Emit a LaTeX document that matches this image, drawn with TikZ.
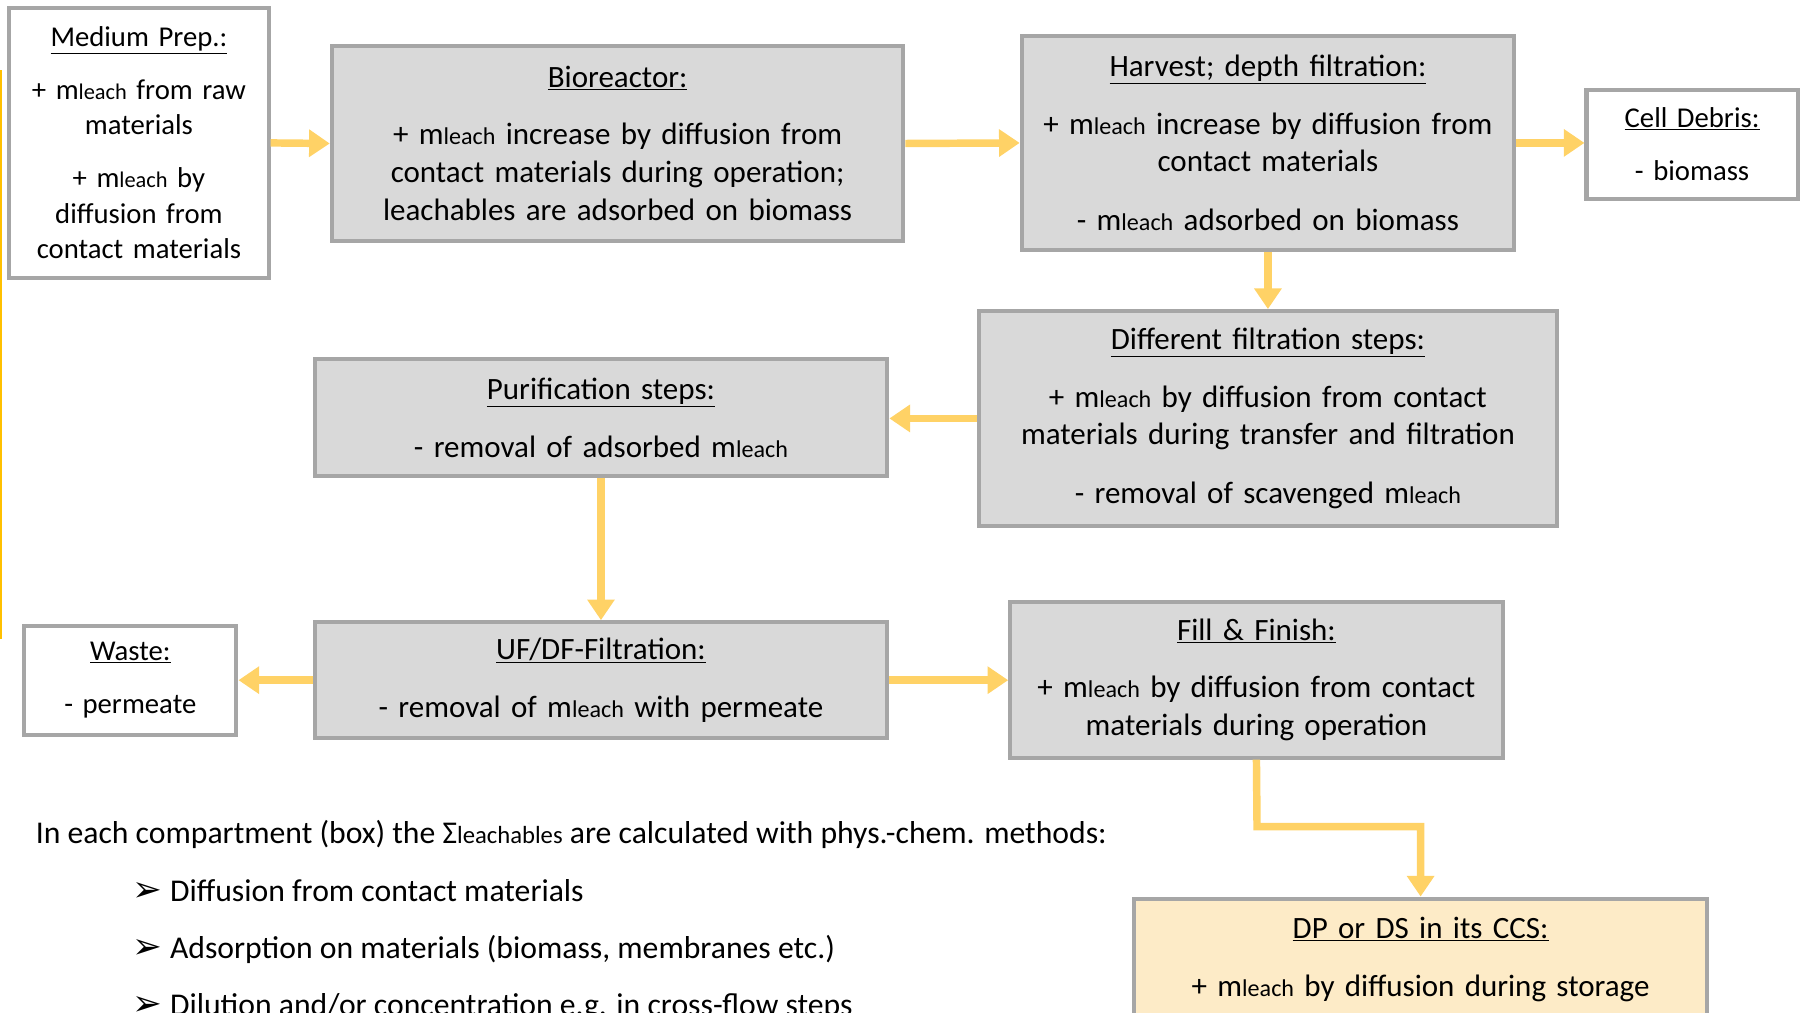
\documentclass[tikz,border=0pt]{standalone}
\usepackage{fontspec}
\setmainfont{Carlito}
\newfontfamily\dejavu{DejaVu Sans}
\usetikzlibrary{arrows.meta}
\definecolor{boxgray}{RGB}{217,217,217}
\definecolor{bordergray}{RGB}{166,166,166}
\definecolor{arrowyellow}{RGB}{255,210,102}
\definecolor{dpfill}{RGB}{253,235,199}
\definecolor{edgeorange}{RGB}{255,192,0}
\newcommand{\mlsmall}{m{\fontsize{19.5}{19.5}\selectfont leach}}
\newcommand{\mlbig}{m{\fontsize{21}{21}\selectfont leach}}
\newcommand{\ttl}[1]{\underline{#1}}
\newcommand{\bulletmark}{{\dejavu\fontsize{31}{31}\selectfont ➢}}
\begin{document}
\begin{tikzpicture}[x=1pt,y=-1pt,
  basebox/.style={draw=bordergray, line width=3.5pt, align=center, inner sep=0pt},
  bigbox/.style={basebox, fill=boxgray, font=\fontsize{27}{33}\selectfont},
  smallbox/.style={basebox, fill=white, font=\fontsize{25}{31}\selectfont},
  dpbox/.style={basebox, fill=dpfill, font=\fontsize{27}{33}\selectfont},
  flow/.style={draw=arrowyellow, line width=6.5pt, -{Triangle[width=23pt,length=18pt]}},
  plain/.style={font=\fontsize{27.6}{33}\selectfont, inner sep=0pt, anchor=base west},
  bul/.style={plain}
]
\useasboundingbox (0,0) rectangle (1568,882);
\clip (0,0) rectangle (1568,882);

\draw[edgeorange, line width=1.5pt] (0.75,61) -- (0.75,557);

\node[smallbox, minimum width=226pt, minimum height=235pt, text width=220pt] (med) at (121,124.5)
  {\ttl{Medium Prep.:}\\[15pt] + \mlsmall{} from raw\\ materials\\[15pt] + \mlsmall{} by\\ diffusion from\\ contact materials};

\node[bigbox, minimum width=498pt, minimum height=170pt, text width=490pt] (bio) at (538,125)
  {\ttl{Bioreactor:}\\[17pt] + \mlbig{} increase by diffusion from\\ contact materials during operation;\\ leachables are adsorbed on biomass};

\node[bigbox, minimum width=429pt, minimum height=187pt, text width=420pt] (harv) at (1104.5,124.5)
  {\ttl{Harvest; depth filtration:}\\[17pt] + \mlbig{} increase by diffusion from\\ contact materials\\[18pt] - \mlbig{} adsorbed on biomass};

\node[smallbox, minimum width=184pt, minimum height=95pt, text width=180pt] (cell) at (1474,125.5)
  {\ttl{Cell Debris:}\\[15pt] - biomass};

\node[bigbox, minimum width=503pt, minimum height=187pt, text width=495pt] (filt) at (1104.5,364.5)
  {\ttl{Different filtration steps:}\\[17pt] + \mlbig{} by diffusion from contact\\ materials during transfer and filtration\\[18pt] - removal of scavenged \mlbig};

\node[bigbox, minimum width=499pt, minimum height=102pt, text width=490pt] (purif) at (523.5,364)
  {\ttl{Purification steps:}\\[17pt] - removal of adsorbed \mlbig};

\node[smallbox, minimum width=185pt, minimum height=95pt, text width=180pt] (waste) at (113.5,592.5)
  {\ttl{Waste:}\\[15pt] - permeate};

\node[bigbox, minimum width=499pt, minimum height=101pt, text width=490pt] (ufdf) at (523.5,592.5)
  {\ttl{UF/DF-Filtration:}\\[17pt] - removal of \mlbig{} with permeate};

\node[bigbox, minimum width=429pt, minimum height=136pt, text width=420pt] (fill) at (1094.5,592)
  {\ttl{Fill \& Finish:}\\[17pt] + \mlbig{} by diffusion from contact\\ materials during operation};

\node[dpbox, anchor=north, minimum width=499pt, minimum height=106pt, text width=490pt] (dp) at (1237.5,781)
  {\ttl{DP or DS in its CCS:}\\[17pt] + \mlbig{} by diffusion during storage};

\draw[flow] (med.east) -- (bio.west);
\draw[flow] (bio.east) -- (harv.west);
\draw[flow] (harv.east) -- (harv.east -| cell.west);
\draw[flow] (harv.south) -- (filt.north);
\draw[flow] (filt.west) -- (filt.west -| purif.east);
\draw[flow] (purif.south) -- (ufdf.north);
\draw[flow] (ufdf.west) -- (ufdf.west -| waste.east);
\draw[flow] (ufdf.east) -- (ufdf.east -| fill.west);
\coordinate (bend) at (1095,720);
\draw[flow] (fill.south) -- (bend) -| (dp.north);

\node[plain] (note) at (31,735)
  {In each compartment (box) the Σ{\fontsize{21.5}{21.5}\selectfont leachables} are calculated with phys.-chem. methods:};
\node[bul] (b1) at (115,785) {\bulletmark\hspace{7pt}Diffusion from contact materials};
\node[bul] (b2) at (115,835) {\bulletmark\hspace{7pt}Adsorption on materials (biomass, membranes etc.)};
\node[bul] (b3) at (115,885) {\bulletmark\hspace{7pt}Dilution and/or concentration e.g. in cross-flow steps};
\end{tikzpicture}
\end{document}
